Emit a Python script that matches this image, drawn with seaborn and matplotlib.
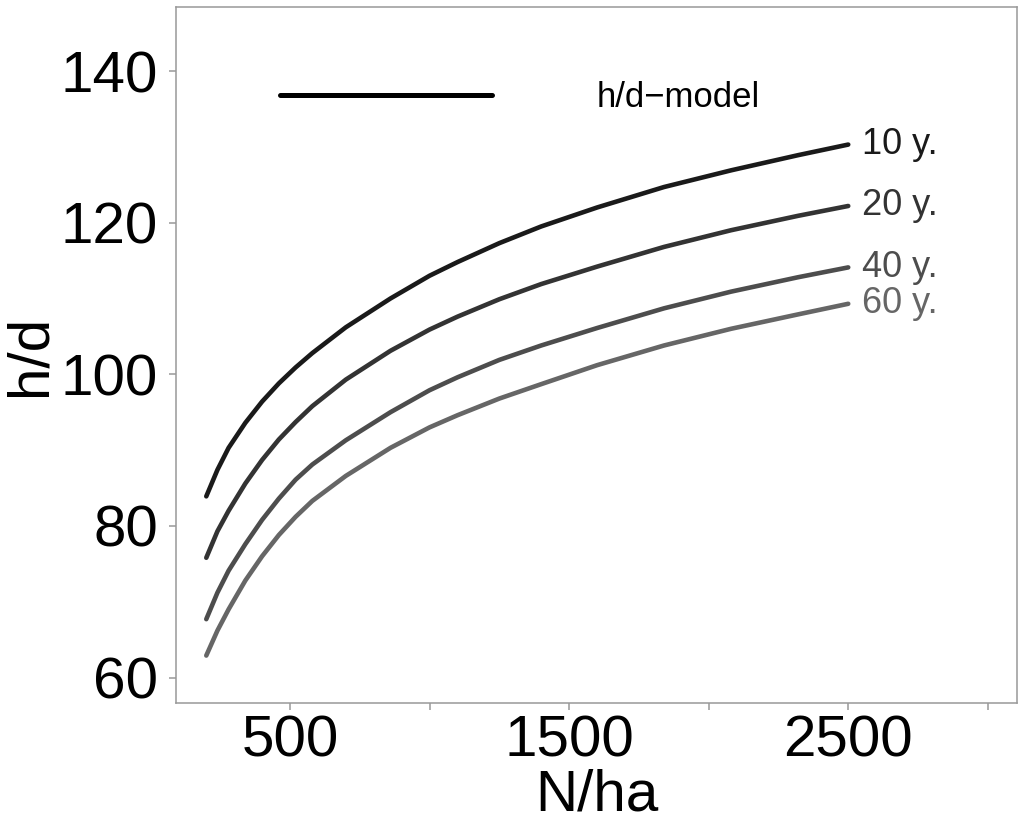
"""
Height/diameter ratio vs stand density (h/d-model) for four stand ages.
"""

import pandas as pd
import matplotlib.pyplot as plt
import seaborn as sns
from matplotlib.lines import Line2D

# values
stems_per_ha = [200, 240, 280, 340, 400, 460, 520, 580, 700, 860, 1000,
                1100, 1250, 1400, 1600, 1840, 2080, 2320, 2500]
hd_10y = [83.9, 87.4, 90.3, 93.6, 96.4, 98.8, 100.9, 102.8, 106.2, 110.0, 113.0,
          114.8, 117.3, 119.5, 122.0, 124.7, 126.9, 128.9, 130.3]
hd_20y = [75.8, 79.3, 82.0, 85.6, 88.7, 91.4, 93.7, 95.8, 99.3, 103.1, 105.9,
          107.6, 109.9, 111.9, 114.2, 116.8, 119.0, 120.9, 122.2]
hd_40y = [67.7, 71.2, 74.1, 77.6, 80.8, 83.6, 86.1, 88.1, 91.3, 95.0, 97.9,
          99.6, 101.9, 103.8, 106.1, 108.7, 110.9, 112.8, 114.1]
hd_60y = [62.9, 66.2, 69.0, 72.8, 76.0, 78.8, 81.2, 83.3, 86.6, 90.3, 93.0,
          94.6, 96.8, 98.7, 101.2, 103.8, 106.0, 107.9, 109.3]

ages = ['10 y.', '20 y.', '40 y.', '60 y.']
age_colors = ['#1a1a1a', '#333333', '#4d4d4d', '#666666']

x_ticks = [500, 1000, 1500, 2000, 2500, 3000]
x_tick_labels = ['500', '', '1500', '', '2500', '']
y_ticks = [60, 80, 100, 120, 140]

sns.set_style('white')
plt.rcParams['font.family'] = ['Liberation Sans', 'DejaVu Sans']
plt.rcParams['text.color'] = 'black'
plt.rcParams['axes.labelcolor'] = 'black'
plt.rcParams['xtick.color'] = 'black'
plt.rcParams['ytick.color'] = 'black'


def build_frame() -> pd.DataFrame:
    """Long table with one row per (age, density) point."""
    frames = []
    for age, vals in zip(ages, [hd_10y, hd_20y, hd_40y, hd_60y]):
        frames.append(pd.DataFrame({'N': stems_per_ha, 'hd': vals, 'age': age}))
    return pd.concat(frames, ignore_index=True)


def main():
    df = build_frame()

    fig, ax = plt.subplots(figsize=(10.24, 8.23), dpi=100)
    fig.subplots_adjust(left=0.172, right=0.993, bottom=0.1454, top=0.992)

    sns.lineplot(data=df, x='N', y='hd', hue='age', hue_order=ages,
                 palette=age_colors, linewidth=3.3, legend=False, ax=ax,
                 solid_capstyle='round', solid_joinstyle='round')

    # curve labels at the right end of each line
    for age, color in zip(ages, age_colors):
        last = df[df['age'] == age].iloc[-1]
        ax.annotate(age, xy=(last['N'], last['hd']), xytext=(10, 0),
                    textcoords='offset points', ha='left', va='center',
                    fontsize=26, color=color)

    # key for the model line
    handle = Line2D([], [], color='black', linewidth=3.6, solid_capstyle='round')
    ax.legend([handle], ['h/d\u2212model'], loc='center left',
              bbox_to_anchor=(0.124, 0.870), frameon=False, fontsize=25,
              handlelength=6.1, handletextpad=3.0, borderpad=0, borderaxespad=0,
              labelcolor='black')

    ax.set_xlim(92, 3104)
    ax.set_ylim(56.6, 148.5)
    ax.set_xticks(x_ticks)
    ax.set_xticklabels(x_tick_labels)
    ax.set_yticks(y_ticks)

    ax.set_xlabel('N/ha', fontsize=42, labelpad=0)
    ax.set_ylabel('h/d', fontsize=42, labelpad=2)
    ax.tick_params(axis='both', labelsize=42, length=5, width=1.1,
                   color='#999999', labelcolor='black', direction='out',
                   bottom=True, left=True)
    ax.tick_params(axis='x', pad=3)
    ax.tick_params(axis='y', pad=8)
    for spine in ax.spines.values():
        spine.set_color('#999999')
        spine.set_linewidth(1.1)
        spine.set_visible(True)

    fig.savefig('out.png', dpi=100)
    plt.close(fig)


if __name__ == '__main__':
    main()
